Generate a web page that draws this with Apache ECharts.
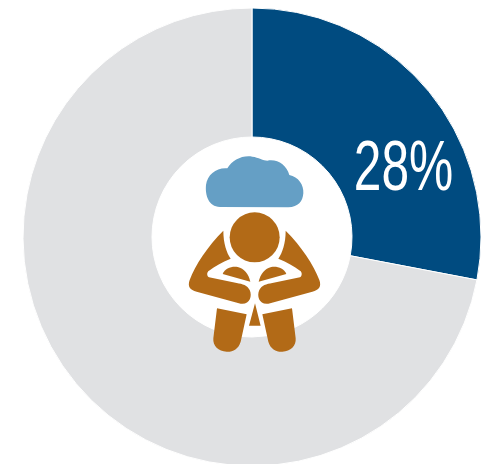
<!DOCTYPE html>
<html>
<head>
<meta charset="utf-8">
<style>html,body{margin:0;padding:0;background:#fff}#c{width:482px;height:464px}</style>
<script src="https://cdn.jsdelivr.net/npm/echarts@6/dist/echarts.min.js"></script>
</head>
<body>
<div id="c"></div>
<script>
const categories = ['Affected', 'Not affected'];
const values = [28, 72];
const sliceColors = ['#004b80', '#e0e1e3'];

const ORANGE = '#b26a17';
const CLOUD = '#659fc5';
const iconPaths = {
  cloud: 'M150,201 C115,200 105,165 108,135 C112,103 140,82 172,85 C187,60 217,45 247,50 C265,52 280,62 292,62 C322,56 350,75 358,105 C385,110 402,135 400,160 C398,185 385,201 355,202 Z',
  arm: 'M160,272 C112,320 76,375 59,420 C52,440 60,450 80,455 L212,491 C238,495 248,470 239,450 C232,436 218,432 200,429 L117,412 C110,408 110,396 117,392 C135,379 155,366 182,356 C170,338 160,310 160,272 Z',
  hump: 'M158,402 C165,385 185,378 203,381 C222,385 236,402 241,425 L158,402 Z',
  leg: 'M141,505 L230,523 L212,605 C205,628 188,636 170,635 C145,634 128,618 130,595 Z',
  gap: 'M255,490 L237,557 L272,557 Z'
};
const mirrorX = 2 * 253.5;

// Register each icon outline as a named shape usable from the graphic component.
Object.keys(iconPaths).forEach(name => {
  echarts.graphic.registerShape('icon-' + name, echarts.graphic.extendPath(iconPaths[name]));
});
const ICON_Z = 10;
const raw = (name, fill) => ({ type: 'icon-' + name, z: ICON_Z, style: { fill: fill } });
const mirrored = (name, fill) => ({
  type: 'group',
  x: mirrorX,
  scaleX: -1,
  children: [raw(name, fill)]
});

const chart = echarts.init(document.getElementById('c'), null, { renderer: 'canvas' });

chart.setOption({
  backgroundColor: '#fff',
  animation: false,
  series: [{
    type: 'pie',
    center: [252, 237],
    radius: [100, 229],
    startAngle: 90,
    clockwise: true,
    silent: true,
    label: { show: false },
    labelLine: { show: false },
    itemStyle: { borderColor: '#fff', borderWidth: 1 },
    data: categories.map((name, i) => ({
      name: name,
      value: values[i],
      itemStyle: { color: sliceColors[i] }
    }))
  }],
  graphic: [
    {
      type: 'text',
      x: 403.5,
      y: 171,
      scaleX: 0.71,
      z: ICON_Z,
      style: {
        text: values[0] + '%',
        fill: '#fff',
        font: '70px "Liberation Sans Narrow", "Liberation Sans", sans-serif',
        align: 'center',
        verticalAlign: 'middle'
      }
    },
    {
      type: 'group',
      x: 170,
      y: 140,
      scaleX: 1 / 3,
      scaleY: 1 / 3,
      children: [
        raw('cloud', CLOUD),
        { type: 'circle', z: ICON_Z, shape: { cx: 254, cy: 292, r: 75 }, style: { fill: ORANGE } },
        raw('arm', ORANGE),
        mirrored('arm', ORANGE),
        raw('hump', ORANGE),
        mirrored('hump', ORANGE),
        raw('leg', ORANGE),
        mirrored('leg', ORANGE),
        raw('gap', ORANGE)
      ]
    }
  ]
});
</script>
</body>
</html>
